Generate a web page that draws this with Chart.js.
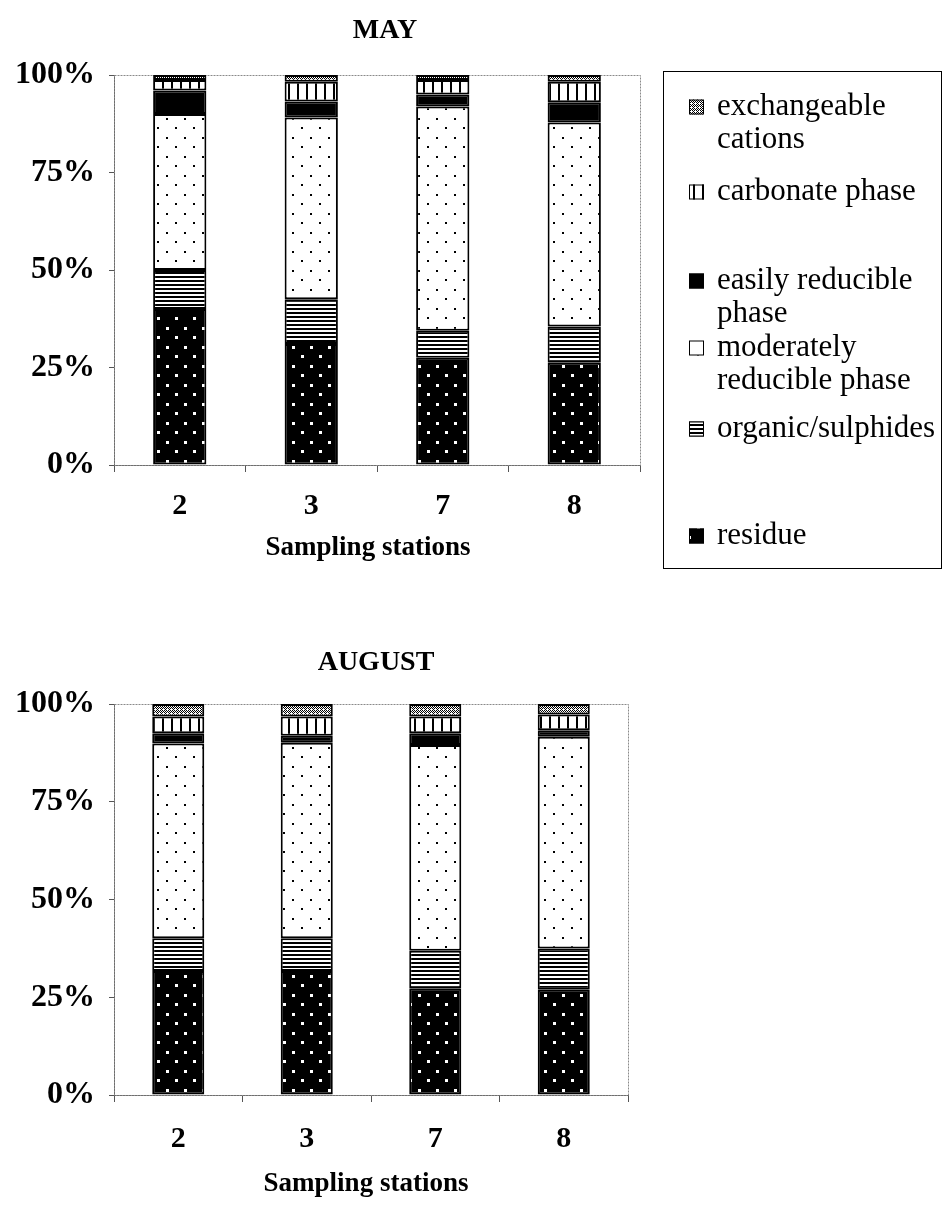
<!DOCTYPE html>
<html>
<head>
<meta charset="utf-8">
<script src="https://cdn.jsdelivr.net/npm/chart.js@4.4.0/dist/chart.umd.min.js"></script>
<style>
  html, body { margin: 0; padding: 0; background: #fff; }
  body { width: 943px; height: 1224px; position: relative; overflow: hidden; }
  canvas { position: absolute; left: 0; }
  #may { top: 0; }
  #aug { top: 610px; }
</style>
</head>
<body>
<canvas id="may" width="943" height="600"></canvas>
<canvas id="aug" width="943" height="614"></canvas>
<script>
// Sampling stations and the six sequential-extraction fractions (bottom to top of each bar)
const STATIONS = ['2', '3', '7', '8'];
const PHASES = ['residue', 'organic/sulphides', 'moderately reducible phase',
                'easily reducible phase', 'carbonate phase', 'exchangeable cations'];
const Y_TICKS = [0, 25, 50, 75, 100];

// May: share of each fraction (%)
const MAY_RESIDUE   = [40.0, 31.0, 27.5, 26.2];
const MAY_ORGANIC   = [10.0, 11.5,  6.9,  9.3];
const MAY_MODERATE  = [40.0, 46.6, 57.5, 52.3];
const MAY_EASILY    = [ 6.0,  4.1,  3.1,  5.2];
const MAY_CARBONATE = [ 2.7,  5.1,  3.7,  5.3];
const MAY_EXCHANGE  = [ 1.3,  1.7,  1.3,  1.7];

// August: share of each fraction (%)
const AUG_RESIDUE   = [31.7, 31.7, 27.3, 26.9];
const AUG_ORGANIC   = [ 8.4,  8.4,  9.6, 10.6];
const AUG_MODERATE  = [49.8, 50.0, 52.6, 54.1];
const AUG_EASILY    = [ 2.6,  1.8,  3.0,  1.7];
const AUG_CARBONATE = [ 4.3,  4.9,  4.3,  4.0];
const AUG_EXCHANGE  = [ 3.2,  3.2,  3.2,  2.7];

const SERIF = "'Liberation Serif', 'Times New Roman', serif";

// ---- fill patterns -------------------------------------------------------
function makePattern(w, h, draw) {
  const c = document.createElement('canvas');
  c.width = w; c.height = h;
  const g = c.getContext('2d');
  draw(g, w, h);
  return g.createPattern(c, 'repeat');
}
const FILLS = [
  // residue: black with white dots
  makePattern(18, 19, (g, w, h) => {
    g.fillStyle = '#000'; g.fillRect(0, 0, w, h);
    g.fillStyle = '#fff'; g.fillRect(4, 4, 3, 3); g.fillRect(13, 13, 3, 3);
  }),
  // organic/sulphides: horizontal lines
  makePattern(4, 4, (g, w, h) => {
    g.fillStyle = '#fff'; g.fillRect(0, 0, w, h);
    g.fillStyle = '#000'; g.fillRect(0, 0, w, 2);
  }),
  // moderately reducible: white with sparse black dots
  makePattern(18, 19, (g, w, h) => {
    g.fillStyle = '#fff'; g.fillRect(0, 0, w, h);
    g.fillStyle = '#000'; g.fillRect(4, 4, 2, 2); g.fillRect(13, 13, 2, 2);
  }),
  // easily reducible: solid black
  '#000',
  // carbonate: vertical lines
  makePattern(9, 4, (g, w, h) => {
    g.fillStyle = '#fff'; g.fillRect(0, 0, w, h);
    g.fillStyle = '#000'; g.fillRect(0, 0, 2, h);
  }),
  // exchangeable cations: fine cross-hatch
  makePattern(4, 4, (g, w, h) => {
    g.fillStyle = '#fff'; g.fillRect(0, 0, w, h);
    g.fillStyle = '#000';
    [[0,0],[2,0],[1,1],[3,1],[0,2],[2,2],[1,3]].forEach(([x, y]) => g.fillRect(x, y, 1, 1));
  })
];

// ---- plugins ---------------------------------------------------------------
const plotFrame = {
  id: 'plotFrame',
  beforeDatasetsDraw(chart) {
    const { ctx, chartArea: a } = chart;
    ctx.save();
    ctx.strokeStyle = '#8a8a8a';
    ctx.lineWidth = 1;
    ctx.setLineDash([2, 1]);
    ctx.strokeRect(a.left + 0.5, a.top + 0.5, a.right - a.left, a.bottom - a.top);
    ctx.restore();
  }
};

// panel heading and x-axis caption
const panelText = {
  id: 'panelText',
  afterDraw(chart, args, opts) {
    const { ctx } = chart;
    ctx.save();
    ctx.fillStyle = '#000';
    ctx.textAlign = 'center';
    ctx.textBaseline = 'middle';
    opts.items.forEach(t => {
      ctx.font = `bold ${t.size}px ${SERIF}`;
      ctx.fillText(t.text, t.x, t.y);
    });
    ctx.restore();
  }
};

const boxLegend = {
  id: 'boxLegend',
  afterDraw(chart, args, opts) {
    if (!opts.display) return;
    const { ctx } = chart;
    ctx.save();
    ctx.strokeStyle = '#000';
    ctx.lineWidth = 1;
    ctx.strokeRect(opts.left + 0.5, opts.top + 0.5, opts.width, opts.height);
    ctx.font = `${opts.size}px ${SERIF}`;
    ctx.textBaseline = 'middle';
    ctx.textAlign = 'left';
    const sets = chart.data.datasets.slice().reverse();
    sets.forEach((ds, i) => {
      const y0 = opts.rows[i];
      const s = opts.swatch;
      ctx.fillStyle = ds.backgroundColor;
      ctx.fillRect(opts.swatchX, y0 - s / 2, s, s);
      ctx.strokeStyle = '#000';
      ctx.strokeRect(opts.swatchX + 0.5, y0 - s / 2 + 0.5, s - 1, s - 1);
      // wrapped label
      const words = ds.label.split(' ');
      const lines = [];
      let cur = '';
      words.forEach(w => {
        const t = cur ? cur + ' ' + w : w;
        if (cur && ctx.measureText(t).width > opts.maxText) { lines.push(cur); cur = w; }
        else cur = t;
      });
      lines.push(cur);
      ctx.fillStyle = '#000';
      lines.forEach((ln, k) => ctx.fillText(ln, opts.textX, y0 + k * opts.lineH));
    });
    ctx.restore();
  }
};

// ---- chart builder -------------------------------------------------------
function buildChart(id, series, lay, texts, legendOpts) {
  const datasets = PHASES.map((name, i) => ({
    label: name,
    data: series[i],
    backgroundColor: FILLS[i],
    borderColor: '#000',
    borderWidth: 2,
    borderSkipped: false,
    categoryPercentage: 1,
    barPercentage: 0.405
  }));
  return new Chart(document.getElementById(id), {
    type: 'bar',
    data: { labels: STATIONS, datasets },
    plugins: [plotFrame, panelText, boxLegend],
    options: {
      responsive: false,
      animation: false,
      devicePixelRatio: 1,
      layout: { padding: { top: lay.top, right: lay.right, left: 0, bottom: 0 } },
      plugins: {
        legend: { display: false },
        tooltip: { enabled: false },
        panelText: { items: texts },
        boxLegend: legendOpts
      },
      scales: {
        x: {
          stacked: true,
          grid: { offset: true, drawOnChartArea: false, tickLength: 7, color: '#555' },
          border: { color: '#555', width: 1 },
          ticks: { color: '#000', padding: lay.tickPad, maxRotation: 0,
                   font: { family: SERIF, size: 30, weight: 'bold' } },
          afterFit(s) { s.height = lay.xH; }
        },
        y: {
          stacked: true,
          min: 0, max: 100,
          afterBuildTicks(s) { s.ticks = Y_TICKS.map(v => ({ value: v })); },
          grid: { drawOnChartArea: false, tickLength: 5, color: '#555' },
          border: { color: '#555', width: 1 },
          ticks: { color: '#000', padding: 14, callback: v => v + '%',
                   font: { family: SERIF, size: 32, weight: 'bold' } },
          afterFit(s) { s.width = 114; }
        }
      }
    }
  });
}

buildChart('may',
  [MAY_RESIDUE, MAY_ORGANIC, MAY_MODERATE, MAY_EASILY, MAY_CARBONATE, MAY_EXCHANGE],
  { top: 75, right: 303, xH: 135, tickPad: 16 },
  [{ text: 'MAY', x: 385, y: 31, size: 28 },
   { text: 'Sampling stations', x: 368, y: 548, size: 27 }],
  { display: true, left: 663, top: 71, width: 278, height: 497, size: 31,
    swatch: 15, swatchX: 689, textX: 717, maxText: 224, lineH: 33,
    rows: [107, 192, 281, 348, 429, 536] });

buildChart('aug',
  [AUG_RESIDUE, AUG_ORGANIC, AUG_MODERATE, AUG_EASILY, AUG_CARBONATE, AUG_EXCHANGE],
  { top: 94, right: 315, xH: 129, tickPad: 19 },
  [{ text: 'AUGUST', x: 376, y: 53, size: 28 },
   { text: 'Sampling stations', x: 366, y: 574, size: 27 }],
  { display: false });
</script>
</body>
</html>
